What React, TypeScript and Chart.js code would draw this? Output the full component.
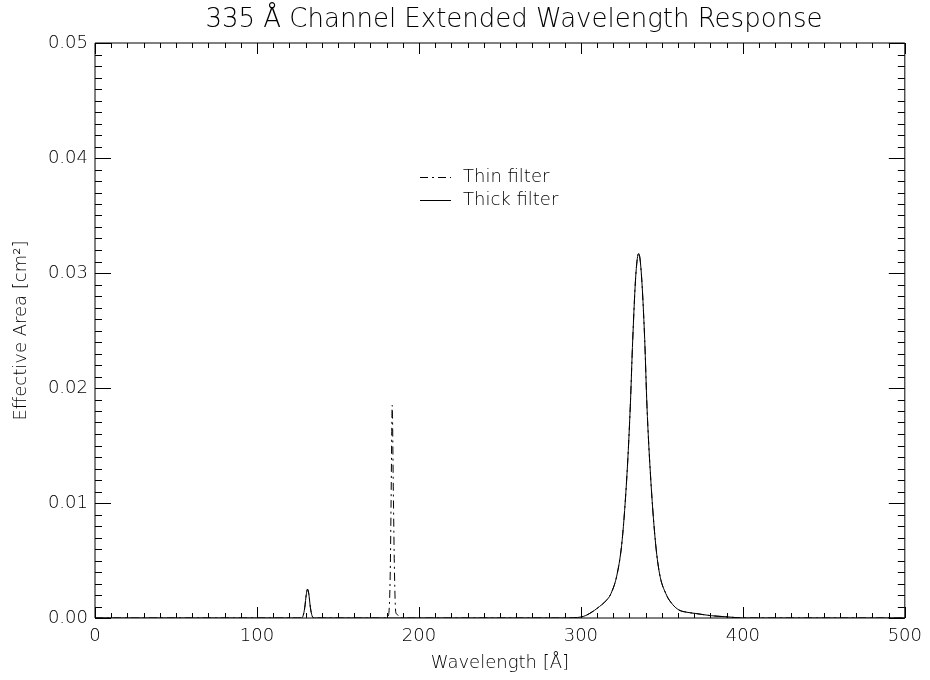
import React, { useEffect, useRef } from "react";
import { Chart, registerables } from "chart.js";

Chart.register(...registerables);

// ---- data ----
const TITLE = "335 Å Channel Extended Wavelength Response";
const X_TITLE = "Wavelength [Å]";
const Y_TITLE = "Effective Area [cm²]";
const LEGEND_LABELS = ["Thin filter", "Thick filter"];

const wavelengths = [
  0, 100, 125, 127.5, 128.5, 129.5, 130.5, 131.2, 132, 133, 134, 135.5,
  175, 180, 181.3, 182.3, 182.8, 183.5, 184.2, 184.9, 185.7, 186.7, 187.7, 190,
  250, 290, 300.5, 305.5, 311.5, 315.5, 318.5, 322.5, 325.5, 328.5, 330.5, 332, 334, 335.7,
  337.3, 339.4, 340.8, 342.9, 345.9, 348.5, 352.5, 356.5, 360.5, 365.5, 370.5, 380.5, 390.5,
  400, 450, 500,
];

const thinFilter = [
  0, 0, 0, 0, 0.0002, 0.0009, 0.0021, 0.0025, 0.0021, 0.0009, 0.0002, 0,
  0, 0, 0.0003, 0.004, 0.01, 0.0185, 0.011, 0.004, 0.0005, 0.0003, 0.0001, 0,
  0, 0, 0.0001, 0.0004, 0.001, 0.0015, 0.0021, 0.0039, 0.0068, 0.0126, 0.0184, 0.0242, 0.03, 0.0317,
  0.03, 0.0242, 0.0184, 0.0126, 0.0068, 0.0039, 0.0021, 0.0012, 0.0007, 0.0005, 0.0004, 0.0002, 0.0001,
  0, 0, 0,
];

const thickFilter = [
  0, 0, 0, 0, 0.0002, 0.0009, 0.0021, 0.0025, 0.0021, 0.0009, 0.0002, 0,
  0, 0, 0, 0, 0, 0, 0, 0, 0, 0, 0, 0,
  0, 0, 0.0001, 0.0004, 0.001, 0.0015, 0.0021, 0.0039, 0.0068, 0.0126, 0.0184, 0.0242, 0.03, 0.0317,
  0.03, 0.0242, 0.0184, 0.0126, 0.0068, 0.0039, 0.0021, 0.0012, 0.0007, 0.0005, 0.0004, 0.0002, 0.0001,
  0, 0, 0,
];

const X_MIN = 0;
const X_MAX = 500;
const X_MAJOR = 100;
const X_MINOR = 10;
const Y_MIN = 0;
const Y_MAX = 0.05;
const Y_MAJOR = 0.01;
const Y_MINOR_PER_MAJOR = 10;

const FONT = "'DejaVu Sans', sans-serif";
const THIN_DASH = [8, 4, 2, 4];

const framePlugin = {
  id: "idlFrame",
  beforeDatasetsDraw(chart: any) {
    const { ctx, chartArea } = chart;
    const { left, right, top, bottom } = chartArea;
    const xs = chart.scales.x;
    const ys = chart.scales.y;
    ctx.save();
    ctx.strokeStyle = "#000";
    ctx.lineWidth = 1;
    ctx.beginPath();
    ctx.rect(left, top, right - left, bottom - top);
    const nx = Math.round((X_MAX - X_MIN) / X_MINOR);
    const perMajorX = Math.round(X_MAJOR / X_MINOR);
    for (let i = 0; i <= nx; i++) {
      const v = X_MIN + i * X_MINOR;
      const px = Math.round(xs.getPixelForValue(v)) + 0.5;
      const len = i % perMajorX === 0 ? 11 : 5;
      ctx.moveTo(px, bottom);
      ctx.lineTo(px, bottom - len);
      ctx.moveTo(px, top);
      ctx.lineTo(px, top + len);
    }
    const ny = Math.round(((Y_MAX - Y_MIN) / Y_MAJOR) * Y_MINOR_PER_MAJOR);
    for (let i = 0; i <= ny; i++) {
      const v = Y_MIN + (i * Y_MAJOR) / Y_MINOR_PER_MAJOR;
      const py = Math.round(ys.getPixelForValue(v)) + 0.5;
      const len = i % Y_MINOR_PER_MAJOR === 0 ? 16 : 7;
      ctx.moveTo(left, py);
      ctx.lineTo(left + len, py);
      ctx.moveTo(right, py);
      ctx.lineTo(right - len, py);
    }
    ctx.stroke();
    ctx.restore();
  },
};

const titlePlugin = {
  id: "idlTitle",
  afterDraw(chart: any) {
    const { ctx } = chart;
    ctx.save();
    ctx.font = `200 26px ${FONT}`;
    ctx.fillStyle = "#000";
    ctx.textAlign = "center";
    ctx.textBaseline = "middle";
    ctx.fillText(TITLE, 514, 20);
    ctx.restore();
  },
};

const legendPlugin = {
  id: "idlLegend",
  afterDraw(chart: any) {
    const { ctx } = chart;
    const x0 = 420;
    const x1 = 451;
    const tx = 463;
    const rows = [177, 200];
    ctx.save();
    ctx.font = `200 18px ${FONT}`;
    ctx.fillStyle = "#000";
    ctx.textBaseline = "middle";
    chart.data.datasets.forEach((ds: any, i: number) => {
      const y = rows[i] + 0.5;
      ctx.beginPath();
      ctx.strokeStyle = "#000";
      ctx.lineWidth = 1;
      ctx.setLineDash(ds.borderDash || []);
      ctx.moveTo(x0, y);
      ctx.lineTo(x1, y);
      ctx.stroke();
      ctx.setLineDash([]);
      ctx.fillText(ds.label, tx, rows[i]);
    });
    ctx.restore();
  },
};

export default function App() {
  const ref = useRef<HTMLCanvasElement | null>(null);

  useEffect(() => {
    document.body.style.margin = "0";
    const canvas = ref.current;
    if (!canvas) return;
    const thinData = wavelengths.map((w, i) => ({ x: w, y: thinFilter[i] }));
    const thickData = wavelengths.map((w, i) => ({ x: w, y: thickFilter[i] }));
    const chart = new Chart(canvas, {
      type: "line",
      data: {
        datasets: [
          {
            label: LEGEND_LABELS[0],
            data: thinData,
            borderColor: "#000",
            borderWidth: 1,
            borderDash: THIN_DASH,
            pointRadius: 0,
            fill: false,
            cubicInterpolationMode: "monotone",
          },
          {
            label: LEGEND_LABELS[1],
            data: thickData,
            borderColor: "#000",
            borderWidth: 1,
            pointRadius: 0,
            fill: false,
            cubicInterpolationMode: "monotone",
          },
        ],
      },
      options: {
        animation: false,
        responsive: false,
        devicePixelRatio: 1,
        parsing: false,
        layout: { padding: { top: 43, right: 23, left: 0, bottom: 0 } },
        plugins: {
          legend: { display: false },
          tooltip: { enabled: false },
          title: { display: false },
        },
        scales: {
          x: {
            type: "linear",
            min: X_MIN,
            max: X_MAX,
            afterFit(scale: any) {
              scale.height = 62;
            },
            grid: { display: false, drawTicks: false },
            border: { display: false },
            ticks: {
              stepSize: X_MAJOR,
              padding: 8,
              color: "#000",
              font: { family: FONT, size: 18, weight: "200" as any },
              maxRotation: 0,
            },
            title: {
              display: true,
              text: X_TITLE,
              color: "#000",
              font: { family: FONT, size: 18, weight: "200" as any },
              padding: { top: 0, bottom: 6 },
            },
          },
          y: {
            type: "linear",
            min: Y_MIN,
            max: Y_MAX,
            afterFit(scale: any) {
              scale.width = 95;
            },
            grid: { display: false, drawTicks: false },
            border: { display: false },
            ticks: {
              stepSize: Y_MAJOR,
              padding: 7,
              color: "#000",
              font: { family: FONT, size: 18, weight: "200" as any },
              callback: (v: any) => Number(v).toFixed(2),
            },
            title: {
              display: true,
              text: Y_TITLE,
              color: "#000",
              font: { family: FONT, size: 18, weight: "200" as any },
              padding: { top: 11, bottom: 0 },
            },
          },
        },
      },
      plugins: [framePlugin, titlePlugin, legendPlugin],
    });
    return () => chart.destroy();
  }, []);

  return (
    <div style={{ position: "absolute", left: 0, top: 0, width: 930, height: 680, background: "#fff" }}>
      <canvas ref={ref} width={930} height={680} style={{ display: "block" }} />
    </div>
  );
}
